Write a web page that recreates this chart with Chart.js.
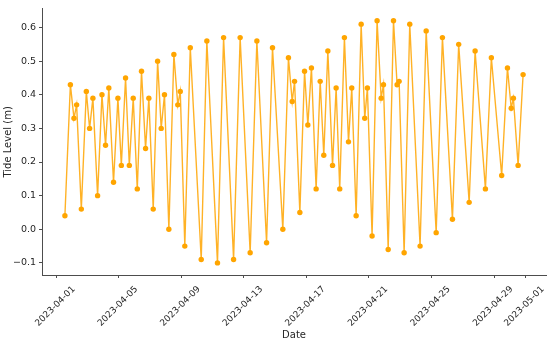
<!DOCTYPE html>
<html><head><meta charset="utf-8">
<script src="https://cdn.jsdelivr.net/npm/chart.js@4/dist/chart.umd.min.js"></script>
<style>html,body{margin:0;padding:0;background:#fff}canvas{display:block}</style>
</head><body>
<canvas id="c" width="550" height="342"></canvas>
<script>
// Observation times (UTC) of each tide reading
const times = [
  '2023-04-01 13:12','2023-04-01 21:36','2023-04-02 03:07','2023-04-02 07:12','2023-04-02 14:24','2023-04-02 22:05',
  '2023-04-03 03:07','2023-04-03 08:10','2023-04-03 15:22','2023-04-03 22:05','2023-04-04 03:36','2023-04-04 08:38',
  '2023-04-04 15:50','2023-04-04 22:34','2023-04-05 03:50','2023-04-05 10:19','2023-04-05 16:05','2023-04-05 22:05',
  '2023-04-06 04:19','2023-04-06 10:48','2023-04-06 17:02','2023-04-06 22:05','2023-04-07 04:48','2023-04-07 11:31',
  '2023-04-07 17:02','2023-04-07 22:05','2023-04-08 04:48','2023-04-08 12:29','2023-04-08 18:29','2023-04-08 22:19',
  '2023-04-09 05:17','2023-04-09 13:41','2023-04-10 06:29','2023-04-10 15:07','2023-04-11 07:26','2023-04-11 16:48',
  '2023-04-12 08:10','2023-04-12 18:14','2023-04-13 09:36','2023-04-13 19:55','2023-04-14 10:48','2023-04-14 19:55',
  '2023-04-15 11:46','2023-04-15 20:24','2023-04-16 02:10','2023-04-16 05:46','2023-04-16 13:55','2023-04-16 21:07',
  '2023-04-17 02:10','2023-04-17 07:41','2023-04-17 14:53','2023-04-17 21:07','2023-04-18 02:38','2023-04-18 08:53',
  '2023-04-18 16:05','2023-04-18 21:36','2023-04-19 03:07','2023-04-19 10:19','2023-04-19 16:34','2023-04-19 21:36',
  '2023-04-20 04:19','2023-04-20 12:00','2023-04-20 17:31','2023-04-20 21:36','2023-04-21 04:48','2023-04-21 12:29',
  '2023-04-21 18:43','2023-04-21 22:19','2023-04-22 05:31','2023-04-22 13:41','2023-04-22 19:12','2023-04-22 22:19',
  '2023-04-23 06:00','2023-04-23 14:38','2023-04-24 06:29','2023-04-24 15:50','2023-04-25 07:12','2023-04-25 16:48',
  '2023-04-26 08:10','2023-04-26 17:46','2023-04-27 09:50','2023-04-27 18:58','2023-04-28 10:48','2023-04-28 19:55',
  '2023-04-29 11:46','2023-04-29 20:38','2023-04-30 02:24','2023-04-30 05:46','2023-04-30 12:58','2023-04-30 20:38'
];
// Tide level (m)
const levels = [
  0.04,0.43,0.33,0.37,0.06,0.41,
  0.30,0.39,0.10,0.40,0.25,0.42,
  0.14,0.39,0.19,0.45,0.19,0.39,
  0.12,0.47,0.24,0.39,0.06,0.50,
  0.30,0.40,0.00,0.52,0.37,0.41,
  -0.05,0.54,-0.09,0.56,-0.10,0.57,
  -0.09,0.57,-0.07,0.56,-0.04,0.54,
  0.00,0.51,0.38,0.44,0.05,0.47,
  0.31,0.48,0.12,0.44,0.22,0.53,
  0.19,0.42,0.12,0.57,0.26,0.42,
  0.04,0.61,0.33,0.42,-0.02,0.62,
  0.39,0.43,-0.06,0.62,0.43,0.44,
  -0.07,0.61,-0.05,0.59,-0.01,0.57,
  0.03,0.55,0.08,0.53,0.12,0.51,
  0.16,0.48,0.36,0.39,0.19,0.46
];
const xTickLabels = ['2023-04-01','2023-04-05','2023-04-09','2023-04-13','2023-04-17','2023-04-21','2023-04-25','2023-04-29','2023-05-01'];
const yTickValues = [-0.1,0.0,0.1,0.2,0.3,0.4,0.5,0.6];

function toMs(s){
  const parts = s.split(' ');
  const [Y,M,D] = parts[0].split('-').map(Number);
  const [h,m] = (parts[1]||'00:00').split(':').map(Number);
  return Date.UTC(Y,M-1,D,h,m);
}
const xs = times.map(toMs);
const points = xs.map((x,i)=>({x:x,y:levels[i]}));
const xMinD = Math.min(...xs), xMaxD = Math.max(...xs);
const yMinD = Math.min(...levels), yMaxD = Math.max(...levels);
const xPad = (xMaxD-xMinD)*0.05, yPad = (yMaxD-yMinD)*0.05;

const FONT = 'DejaVu Sans';
const TXT = '#262626';
const AX = '#4d4d4d';

new Chart(document.getElementById('c'), {
  type: 'line',
  data: { datasets: [{
    data: points,
    borderColor: 'rgba(255,165,0,0.85)',
    borderWidth: 1.4,
    backgroundColor: '#FFA500',
    pointBackgroundColor: '#FFA500',
    pointBorderColor: '#FFA500',
    pointBorderWidth: 0,
    pointRadius: 2.7,
    tension: 0,
    fill: false
  }]},
  options: {
    responsive: false,
    animation: false,
    devicePixelRatio: 1,
    layout: { padding: { top: 2, right: 3, left: 0, bottom: 0 } },
    plugins: { legend: { display: false }, tooltip: { enabled: false } },
    scales: {
      x: {
        type: 'linear',
        min: xMinD - xPad,
        max: xMaxD + xPad,
        afterBuildTicks: s => { s.ticks = xTickLabels.map(t => ({ value: toMs(t) })); },
        afterFit: s => { s.height = 67; },
        grid: { display: true, drawOnChartArea: false, drawTicks: true, tickLength: 3, tickWidth: 1, color: AX },
        border: { display: true, color: AX, width: 1 },
        ticks: {
          autoSkip: false, minRotation: 45, maxRotation: 45, padding: 6, labelOffset: 17.5,
          color: TXT, font: { family: FONT, size: 9 },
          callback: v => new Date(v).toISOString().slice(0,10)
        },
        title: { display: true, text: 'Date', color: TXT, font: { family: FONT, size: 10 }, padding: { top: 0, bottom: 1 } }
      },
      y: {
        type: 'linear',
        min: yMinD - yPad,
        max: yMaxD + yPad,
        afterBuildTicks: s => { s.ticks = yTickValues.map(v => ({ value: v })); },
        afterFit: s => { s.width = 42; },
        grid: { display: true, drawOnChartArea: false, drawTicks: true, tickLength: 3, tickWidth: 1, color: AX },
        border: { display: true, color: AX, width: 1 },
        ticks: {
          padding: 3, color: TXT, font: { family: FONT, size: 9.5 },
          callback: v => v.toFixed(1).replace('-', '\u2212')
        },
        title: { display: true, text: 'Tide Level (m)', color: TXT, font: { family: FONT, size: 10 }, padding: { top: 2, bottom: 0 } }
      }
    }
  }
});
</script>
</body></html>
